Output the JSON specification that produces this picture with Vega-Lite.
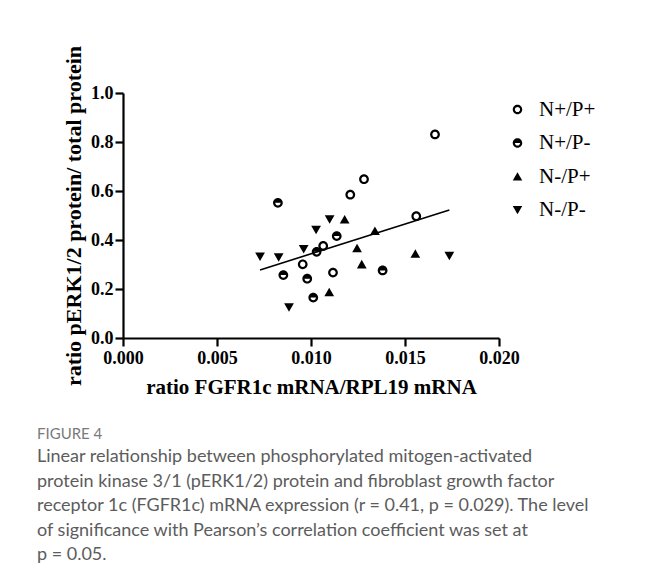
{
  "$schema": "https://vega.github.io/schema/vega-lite/v6.json",
  "width": 376,
  "height": 245,
  "autosize": {"type": "none"},
  "padding": {"left": 123, "top": 93, "right": 157, "bottom": 245},
  "background": "white",
  "config": {
    "view": {"stroke": null},
    "axis": {
      "domainColor": "black", "domainWidth": 2.2, "tickColor": "black", "tickWidth": 2.2, "tickSize": 8,
      "grid": false, "labelFlush": false, "labelFont": "Liberation Serif", "labelFontWeight": "bold", "labelFontSize": 18, "labelColor": "black",
      "titleFont": "Liberation Serif", "titleFontWeight": "bold", "titleFontSize": 21, "titleColor": "black"
    }
  },
  "datasets": {
    "pts": [
      {"x": 0.016596, "y": 0.831, "group": "N+/P+"},
      {"x": 0.01282, "y": 0.648, "group": "N+/P+"},
      {"x": 0.01209, "y": 0.585, "group": "N+/P+"},
      {"x": 0.0156, "y": 0.497, "group": "N+/P+"},
      {"x": 0.01065, "y": 0.376, "group": "N+/P+"},
      {"x": 0.00956, "y": 0.301, "group": "N+/P+"},
      {"x": 0.01117, "y": 0.267, "group": "N+/P+"},
      {"x": 0.00824, "y": 0.552, "group": "N+/P-"},
      {"x": 0.01137, "y": 0.416, "group": "N+/P-"},
      {"x": 0.0103, "y": 0.352, "group": "N+/P-"},
      {"x": 0.00853, "y": 0.257, "group": "N+/P-"},
      {"x": 0.0098, "y": 0.242, "group": "N+/P-"},
      {"x": 0.01381, "y": 0.276, "group": "N+/P-"},
      {"x": 0.01012, "y": 0.165, "group": "N+/P-"},
      {"x": 0.01179, "y": 0.484, "group": "N-/P+"},
      {"x": 0.0134, "y": 0.437, "group": "N-/P+"},
      {"x": 0.01245, "y": 0.367, "group": "N-/P+"},
      {"x": 0.0127, "y": 0.301, "group": "N-/P+"},
      {"x": 0.01555, "y": 0.344, "group": "N-/P+"},
      {"x": 0.01097, "y": 0.187, "group": "N-/P+"},
      {"x": 0.00729, "y": 0.332, "group": "N-/P-"},
      {"x": 0.00828, "y": 0.329, "group": "N-/P-"},
      {"x": 0.00961, "y": 0.363, "group": "N-/P-"},
      {"x": 0.01027, "y": 0.441, "group": "N-/P-"},
      {"x": 0.01099, "y": 0.484, "group": "N-/P-"},
      {"x": 0.01736, "y": 0.335, "group": "N-/P-"},
      {"x": 0.00883, "y": 0.125, "group": "N-/P-"}
    ],
    "fit": [
      {"x": 0.00729, "y": 0.278},
      {"x": 0.01736, "y": 0.522}
    ]
  },
  "title": {
    "text": "FIGURE 4",
    "subtitle": [
      "Linear relationship between phosphorylated mitogen-activated",
      "protein kinase 3/1 (pERK1/2) protein and fibroblast growth factor",
      "receptor 1c (FGFR1c) mRNA expression (r = 0.41, p = 0.029). The level",
      "of significance with Pearson’s correlation coefficient was set at",
      "p = 0.05."
    ],
    "orient": "bottom",
    "anchor": "start",
    "frame": "group",
    "dx": -86,
    "offset": 30,
    "font": "Lato",
    "fontSize": 15,
    "fontWeight": "normal",
    "color": "#7a7a7a",
    "subtitleFont": "Lato",
    "subtitleFontSize": 18,
    "subtitleFontWeight": "normal",
    "subtitleColor": "#5c5c5c",
    "subtitleLineHeight": 24.5,
    "subtitlePadding": 6
  },
  "layer": [
    {
      "data": {"name": "fit"},
      "mark": {"type": "line", "color": "black", "strokeWidth": 1.6},
      "encoding": {
        "x": {"field": "x", "type": "quantitative"},
        "y": {"field": "y", "type": "quantitative"}
      }
    },
    {
      "data": {"name": "pts"},
      "mark": {"type": "point", "filled": true, "color": "black", "opacity": 1, "size": 95, "strokeWidth": 0},
      "encoding": {
        "x": {
          "field": "x", "type": "quantitative",
          "scale": {"domain": [0, 0.02], "nice": false, "zero": true},
          "axis": {"values": [0, 0.005, 0.01, 0.015, 0.02], "format": ".3f", "title": "ratio FGFR1c mRNA/RPL19 mRNA", "labelPadding": 3, "titlePadding": 9}
        },
        "y": {
          "field": "y", "type": "quantitative",
          "scale": {"domain": [0, 1], "nice": false},
          "axis": {"values": [0, 0.2, 0.4, 0.6, 0.8, 1.0], "format": ".1f", "title": "ratio pERK1/2 protein/ total protein", "titleFontSize": 22, "labelPadding": 2, "titlePadding": 5}
        },
        "shape": {
          "field": "group", "type": "nominal",
          "scale": {
            "domain": ["N+/P+", "N+/P-", "N-/P+", "N-/P-"],
            "range": [
              "M -1 0 A 1 1 0 1 1 1 0 A 1 1 0 1 1 -1 0 Z M -0.55 0 A 0.55 0.55 0 1 0 0.55 0 A 0.55 0.55 0 1 0 -0.55 0 Z",
              "M -1 0 A 1 1 0 1 1 1 0 A 1 1 0 1 1 -1 0 Z M -0.55 0 A 0.55 0.55 0 0 0 0.55 0 Z",
              "M 0 -0.9 L 1 0.85 L -1 0.85 Z",
              "M -1 -0.85 L 1 -0.85 L 0 0.9 Z"
            ]
          },
          "legend": {
            "title": null,
            "orient": "none",
            "legendX": 384,
            "legendY": 6,
            "symbolSize": 90,
            "labelFont": "Liberation Serif",
            "labelFontSize": 21,
            "labelColor": "black",
            "labelOffset": 11,
            "rowPadding": 11.5,
            "encode": {
              "symbols": {
                "fill": {"value": "black"},
                "opacity": {"value": 1},
                "shape": {
                  "condition": [
                    {"test": "datum.value === 'N+/P+'", "value": "M -1 0 A 1 1 0 1 1 1 0 A 1 1 0 1 1 -1 0 Z M -0.55 0 A 0.55 0.55 0 1 0 0.55 0 A 0.55 0.55 0 1 0 -0.55 0 Z M -2.3 -0.2 L -1 -0.2 L -1 0.2 L -2.3 0.2 Z M 1 -0.2 L 2.3 -0.2 L 2.3 0.2 L 1 0.2 Z"},
                    {"test": "datum.value === 'N+/P-'", "value": "M -1 0 A 1 1 0 1 1 1 0 A 1 1 0 1 1 -1 0 Z M -0.55 0 A 0.55 0.55 0 0 0 0.55 0 Z"},
                    {"test": "datum.value === 'N-/P+'", "value": "M 0 -0.9 L 1 0.85 L -1 0.85 Z"}
                  ],
                  "value": "M -1 -0.85 L 1 -0.85 L 0 0.9 Z"
                }
              }
            }
          }
        }
      }
    }
  ]
}
